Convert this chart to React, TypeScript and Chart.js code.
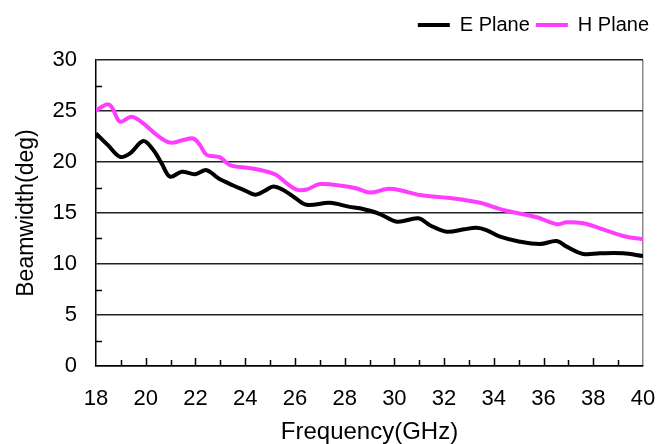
import React, { useEffect, useRef } from 'react';
import { Chart, registerables } from 'chart.js';

Chart.register(...registerables);

// E Plane beamwidth (deg) vs frequency (GHz)
const E_FREQ = [18.0, 18.5, 18.97, 19.37, 19.9, 20.3, 20.64, 20.98, 21.45, 21.98, 22.45, 22.92, 23.52, 24.0, 24.4, 24.8, 25.13, 25.53, 26.0, 26.47, 27.41, 28.2, 28.62, 29.42, 30.1, 30.97, 31.43, 32.1, 32.8, 33.3, 33.7, 34.25, 35.05, 35.86, 36.53, 36.93, 37.6, 38.27, 39.2, 40.0];
const E_BW = [22.8, 21.6, 20.5, 20.85, 22.06, 21.2, 19.87, 18.56, 19.05, 18.8, 19.2, 18.4, 17.7, 17.2, 16.8, 17.2, 17.6, 17.25, 16.5, 15.8, 16.0, 15.6, 15.46, 14.9, 14.15, 14.48, 13.8, 13.17, 13.4, 13.56, 13.33, 12.68, 12.19, 11.96, 12.25, 11.7, 10.98, 11.05, 11.05, 10.78];

// H Plane beamwidth (deg) vs frequency (GHz)
const H_FREQ = [18.0, 18.43, 18.63, 18.97, 19.44, 19.9, 20.44, 20.98, 21.51, 21.91, 22.18, 22.45, 22.99, 23.39, 24.2, 24.8, 25.27, 25.67, 26.07, 26.47, 27.0, 27.95, 28.49, 29.02, 29.69, 30.1, 31.03, 32.37, 33.45, 34.38, 35.73, 36.53, 36.93, 37.6, 38.27, 39.2, 40.0];
const H_BW = [25.03, 25.65, 25.4, 23.95, 24.44, 23.78, 22.65, 21.9, 22.16, 22.3, 21.67, 20.7, 20.45, 19.7, 19.4, 19.1, 18.7, 17.9, 17.3, 17.3, 17.84, 17.65, 17.4, 17.0, 17.35, 17.3, 16.76, 16.43, 16.0, 15.3, 14.58, 13.9, 14.09, 13.99, 13.5, 12.75, 12.42];

const SERIES_NAMES = ['E Plane', 'H Plane'];
const X_MIN = 18;
const X_MAX = 40;
const X_STEP = 2;
const Y_MIN = 0;
const Y_MAX = 30;
const Y_STEP = 5;
const X_MINOR = [19, 20, 21, 22, 23, 24, 25, 26, 27, 28, 29, 30, 31, 32, 33, 34, 35, 36, 37, 38, 39];
const Y_MINOR = [2.5, 7.5, 12.5, 17.5, 22.5, 27.5];
const X_TITLE = 'Frequency(GHz)';
const Y_TITLE = 'Beamwidth(deg)';

const FONT = "'Liberation Sans', Arial, Helvetica, sans-serif";

export default function App() {
  const ref = useRef<HTMLCanvasElement>(null);

  useEffect(() => {
    document.body.style.margin = '0';
    const canvas = ref.current;
    if (!canvas) return;

    const minorTicks = {
      id: 'minorTicks',
      beforeDatasetsDraw(chart: any) {
        const { ctx, scales } = chart;
        const x = scales.x;
        const y = scales.y;
        ctx.save();
        ctx.strokeStyle = '#000';
        ctx.lineWidth = 1.5;
        for (const v of Y_MINOR) {
          const py = Math.round(y.getPixelForValue(v)) + 0.5;
          ctx.beginPath();
          ctx.moveTo(x.left, py);
          ctx.lineTo(x.left + 6, py);
          ctx.stroke();
        }
        for (const f of X_MINOR) {
          const px = Math.round(x.getPixelForValue(f)) + 0.5;
          const len = f % 2 === 0 ? 8 : 6;
          ctx.beginPath();
          ctx.moveTo(px, y.bottom);
          ctx.lineTo(px, y.bottom - len);
          ctx.stroke();
        }
        ctx.restore();
      },
    };

    const chart = new Chart(canvas, {
      type: 'line',
      data: {
        datasets: [
          {
            label: SERIES_NAMES[0],
            data: E_FREQ.map((f, i) => ({ x: f, y: E_BW[i] })),
            borderColor: '#000000',
            backgroundColor: '#000000',
            borderWidth: 4,
            pointRadius: 0,
            tension: 0.35,
          },
          {
            label: SERIES_NAMES[1],
            data: H_FREQ.map((f, i) => ({ x: f, y: H_BW[i] })),
            borderColor: '#ff3dff',
            backgroundColor: '#ff3dff',
            borderWidth: 4,
            pointRadius: 0,
            tension: 0.35,
          },
        ],
      },
      options: {
        animation: false,
        responsive: true,
        maintainAspectRatio: false,
        layout: { padding: { top: 9, right: 4, left: 0, bottom: 0 } },
        plugins: {
          legend: {
            display: true,
            position: 'top',
            align: 'end',
            weight: 1000,
            labels: {
              color: '#000',
              font: { family: FONT, size: 20 },
              boxWidth: 32,
              boxHeight: 4,
              padding: 6,
              generateLabels: (c: any) =>
                Chart.defaults.plugins.legend.labels.generateLabels(c).map((l: any) => ({ ...l, lineWidth: 0 })),
            },
          } as any,
          title: {
            display: true,
            text: '',
            weight: 500,
            font: { size: 10 },
            padding: { top: 0, bottom: 3 },
          } as any,
          tooltip: { enabled: false },
        },
        scales: {
          x: {
            type: 'linear',
            min: X_MIN,
            max: X_MAX,
            afterFit: (s: any) => {
              s.height = 78;
              s.paddingLeft = 0;
              s.paddingRight = 16;
            },
            ticks: {
              stepSize: X_STEP,
              color: '#000',
              font: { family: FONT, size: 22 },
              padding: 20,
              maxRotation: 0,
            },
            grid: {
              drawTicks: false,
              lineWidth: 1.5,
              color: (c: any) => (c.tick && c.tick.value === X_MAX ? '#8a8a8a' : 'rgba(0,0,0,0)'),
            },
            border: { display: true, color: '#000', width: 1.5 },
            title: {
              display: true,
              text: X_TITLE,
              color: '#000',
              font: { family: FONT, size: 24 },
              padding: { top: 0, bottom: -3 },
            },
          },
          y: {
            type: 'linear',
            min: Y_MIN,
            max: Y_MAX,
            afterFit: (s: any) => {
              s.width = 96;
            },
            ticks: {
              stepSize: Y_STEP,
              color: '#000',
              font: { family: FONT, size: 22 },
              padding: 19,
            },
            grid: {
              drawTicks: false,
              lineWidth: 1.5,
              color: '#222',
            },
            border: { display: true, color: '#000', width: 1.5 },
            title: {
              display: true,
              text: Y_TITLE,
              color: '#000',
              font: { family: FONT, size: 23 },
              padding: { top: 13, bottom: 0 },
            },
          },
        },
      },
      plugins: [minorTicks],
    } as any);

    return () => chart.destroy();
  }, []);

  return (
    <div style={{ width: 659, height: 444, position: 'relative', background: '#fff' }}>
      <canvas ref={ref} />
    </div>
  );
}
